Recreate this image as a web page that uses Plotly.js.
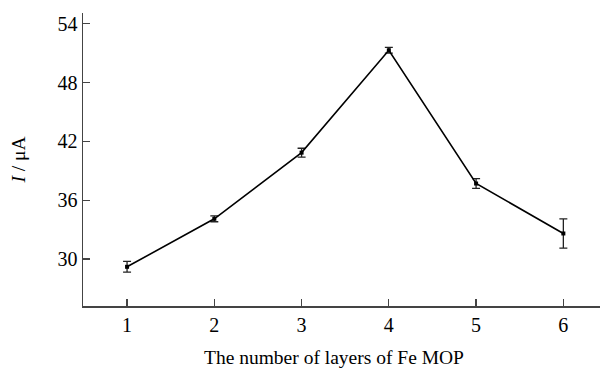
<!DOCTYPE html>
<html>
<head>
<meta charset="utf-8">
<script src="https://cdn.plot.ly/plotly-3.0.1.min.js"></script>
<style>html,body{margin:0;padding:0;background:#fff;}#chart{width:600px;height:370px;}</style>
</head>
<body>
<div id="chart"></div>
<script>
const layers = [1, 2, 3, 4, 5, 6];
const current = [29.2, 34.1, 40.85, 51.3, 37.7, 32.6];
const errors = [0.55, 0.3, 0.45, 0.3, 0.5, 1.5];
const yTicks = [30, 36, 42, 48, 54];
const xTitle = 'The number of layers of Fe MOP';
const yTitle = '<i>I</i> / μA';

const trace = {
  x: layers,
  y: current,
  type: 'scatter',
  mode: 'lines+markers',
  line: {color: '#000', width: 1.6},
  marker: {color: '#000', size: 4, symbol: 'square'},
  error_y: {type: 'data', array: errors, visible: true, color: '#222', thickness: 1.3, width: 4}
};

const layout = {
  width: 600, height: 370,
  margin: {l: 83, r: 0, t: 13, b: 64},
  paper_bgcolor: '#fff', plot_bgcolor: '#fff',
  showlegend: false,
  font: {family: '"Liberation Serif", "Times New Roman", serif', color: '#000', size: 20},
  xaxis: {
    range: [0.495, 6.42],
    tickvals: layers,
    ticktext: layers.map(String),
    showgrid: false, zeroline: false,
    showline: true, linecolor: '#444', linewidth: 1.5,
    ticks: 'inside', ticklen: 7, tickcolor: '#444', tickwidth: 1.3,
    tickfont: {size: 20}
  },
  yaxis: {
    range: [25.2, 55.1],
    tickvals: yTicks,
    ticktext: yTicks.map(String),
    showgrid: false, zeroline: false,
    showline: true, linecolor: '#444', linewidth: 1.5,
    ticks: 'inside', ticklen: 7, tickcolor: '#444', tickwidth: 1.3,
    tickfont: {size: 20},
    title: {text: yTitle, font: {size: 19.5}, standoff: 26}
  },
  annotations: [{
    text: xTitle, xref: 'paper', yref: 'paper',
    x: 0.4855, y: -0.175, xanchor: 'center', yanchor: 'middle',
    showarrow: false, font: {size: 19.5}
  }]
};

Plotly.newPlot('chart', [trace], layout, {displayModeBar: false, staticPlot: true});
</script>
</body>
</html>
